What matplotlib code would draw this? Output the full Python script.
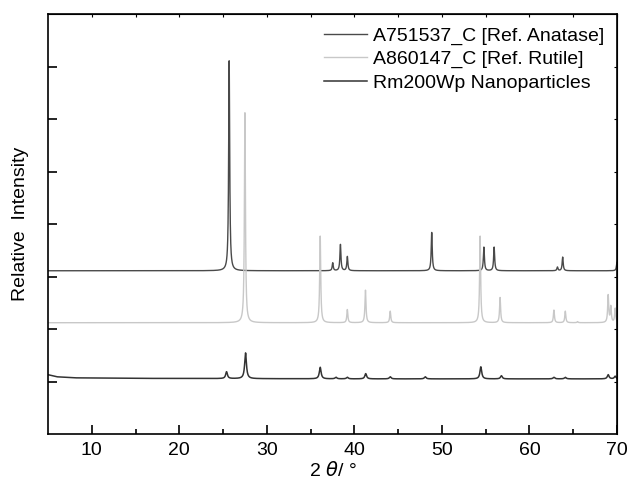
import numpy as np
import matplotlib.pyplot as plt

plt.rcParams['font.family'] = ['Liberation Sans', 'DejaVu Sans']
plt.rcParams['mathtext.fontset'] = 'dejavusans'

# peak positions (2 theta) and heights above baseline
anatase_pos = [25.7, 37.53, 38.41, 39.2, 48.84, 54.8, 55.97, 63.2, 63.8, 70.0]
anatase_h = [4.0, 0.15, 0.50, 0.27, 0.73, 0.45, 0.45, 0.07, 0.26, 0.16]
anatase_base = 3.11

rutile_pos = [27.5, 36.1, 39.2, 41.27, 44.1, 54.37, 56.65, 62.8, 64.1, 65.5, 69.0, 69.3, 69.8]
rutile_h = [4.0, 1.65, 0.25, 0.62, 0.22, 1.65, 0.48, 0.24, 0.22, 0.02, 0.52, 0.30, 0.27]
rutile_base = 2.12

nano_pos = [25.4, 27.57, 36.1, 37.9, 39.2, 41.3, 44.1, 48.1, 54.45, 56.8, 62.8, 64.1, 69.0, 69.8]
nano_h = [0.13, 0.49, 0.22, 0.03, 0.03, 0.10, 0.04, 0.04, 0.23, 0.06, 0.03, 0.03, 0.08, 0.05]
nano_bg_x = [5, 6, 8, 15, 40, 70]
nano_bg_y = [1.13, 1.09, 1.07, 1.06, 1.05, 1.05]

labels = ["A751537_C [Ref. Anatase]", "A860147_C [Ref. Rutile]", "Rm200Wp Nanoparticles"]
colors = ["#4a4a4a", "#c8c8c8", "#333333"]


def pattern(x, pos, h, w):
    y = np.zeros_like(x)
    for c, a in zip(pos, h):
        y += a * w**2 / ((x - c)**2 + w**2)
    return y


tt = np.arange(5, 70.001, 0.01)
ana = anatase_base + pattern(tt, anatase_pos, anatase_h, 0.07)
rut = rutile_base + pattern(tt, rutile_pos, rutile_h, 0.07)
nano = np.interp(tt, nano_bg_x, nano_bg_y) + pattern(tt, nano_pos, nano_h, 0.12)

fig = plt.figure(figsize=(6.28, 4.86), dpi=100)
ax = fig.add_axes([0.0764, 0.107, 0.906, 0.864])

ax.plot(tt, ana, color=colors[0], lw=1.0, label=labels[0])
ax.plot(tt, rut, color=colors[1], lw=1.0, label=labels[1])
ax.plot(tt, nano, color=colors[2], lw=1.1, label=labels[2])

ax.set_xlim(5, 70)
ax.set_ylim(0, 8)
ax.set_xticks(range(10, 71, 10))
ax.set_xticks(range(15, 70, 10), minor=True)
ax.set_yticks(range(1, 8))
ax.set_yticklabels([])
ax.tick_params(which='major', direction='in', length=6.5, width=1.2, labelsize=14)
ax.tick_params(which='minor', direction='in', length=3.5, width=1.2)
ax.tick_params(axis='x', pad=6)

top = ax.secondary_xaxis('top')
top.set_xticks(range(10, 71, 5))
top.tick_params(direction='in', length=2, labeltop=False)
right = ax.secondary_yaxis('right')
right.set_yticks(range(1, 8))
right.tick_params(direction='in', length=2, labelright=False)

for s in ax.spines.values():
    s.set_linewidth(1.2)

ax.set_xlabel(r"2 $\theta$/ °", fontsize=14, labelpad=1)
ax.set_ylabel("Relative  Intensity", fontsize=14, labelpad=10)

ax.legend(loc='upper right', frameon=False, fontsize=14, handlelength=2.2,
          labelspacing=0.3, borderaxespad=0.25, handletextpad=0.3)

fig.savefig("out.png", dpi=100)
